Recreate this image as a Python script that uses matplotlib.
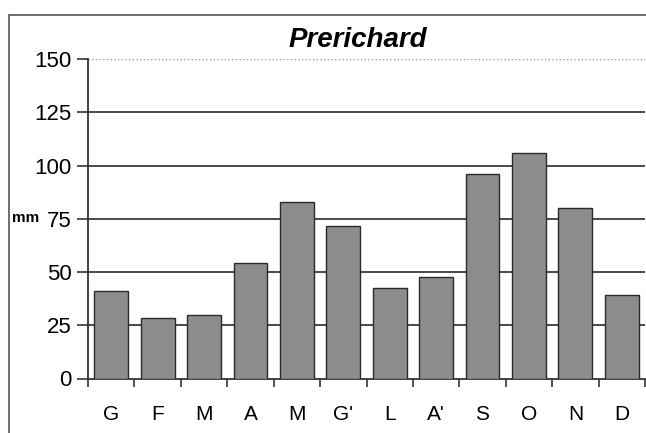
import matplotlib
matplotlib.use('Agg')
import matplotlib.pyplot as plt
from matplotlib.patches import Rectangle
import numpy as np

months = ['G', 'F', 'M', 'A', 'M', 'G\'', 'L', 'A\'', 'S', 'O', 'N', 'D']
rain_mm = [41, 28.5, 30, 54, 83, 71.5, 42.5, 47.5, 96, 106, 80, 39]
y_ticks = [0, 25, 50, 75, 100, 125, 150]

plt.rcParams['font.family'] = ['Liberation Sans', 'DejaVu Sans']

fig = plt.figure(figsize=(6.46, 4.33), dpi=100)
# outer chart border (runs off the right and bottom of the picture)
fig.patches.append(Rectangle((8.5 / 646, -0.2), 1.2, 1.2 - 15 / 433,
                             transform=fig.transFigure, fill=False,
                             edgecolor='#555555', linewidth=1.2))

ax = fig.add_axes([88 / 646, 1 - 378.5 / 433, 557 / 646, 319.5 / 433])
x = np.arange(len(months))
ax.bar(x, rain_mm, width=0.73, color='#8d8d8d', edgecolor='#2a2a2a',
       linewidth=1.0, zorder=3)

ax.set_xlim(-0.5, len(months) - 0.5)
ax.set_ylim(0, 150)
ax.set_yticks(y_ticks)
ax.set_yticklabels([str(v) for v in y_ticks], fontsize=16)
for v in y_ticks[1:-1]:
    ax.axhline(v, color='#3a3a3a', linewidth=1.3, zorder=1)
ax.axhline(150, color='#999999', linewidth=1.0, linestyle=':', zorder=1)

ax.set_xticks(x)
ax.set_xticklabels(months, fontsize=15)
ax.set_xticks(np.arange(len(months) + 1) - 0.5, minor=True)
ax.tick_params(axis='x', which='major', length=0, pad=19)
ax.tick_params(axis='x', which='minor', length=6, width=1.2, direction='out', color='#333333')
ax.tick_params(axis='y', length=8, width=1.2, direction='out', color='#333333', pad=4)

for side in ['top', 'right']:
    ax.spines[side].set_visible(False)
for side in ['left', 'bottom']:
    ax.spines[side].set_color('#333333')
    ax.spines[side].set_linewidth(1.3)

fig.text(12 / 646, 1 - 218 / 433, 'mm', fontsize=11, fontweight='bold',
         ha='left', va='center')

fig.text(358 / 646, 1 - 40 / 433, 'Prerichard', fontsize=20, fontweight='bold',
         fontstyle='italic', ha='center', va='center')

fig.savefig('out.png', dpi=100)
